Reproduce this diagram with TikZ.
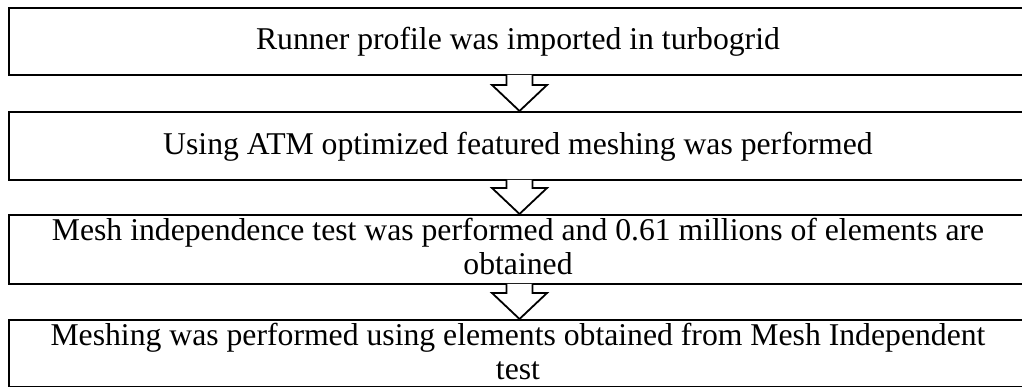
\documentclass[tikz,border=0pt]{standalone}
\usepackage{fontspec}
\setmainfont{Liberation Serif}
\usetikzlibrary{calc}

\tikzset{
  stepbox/.style={draw=black, line width=1.8pt, rectangle, inner sep=0pt,
    minimum width=1021pt, anchor=north},
  steptext/.style={inner sep=0pt, align=center, anchor=base,
    font=\fontsize{31.7}{34}\selectfont},
  flowarrow/.style={draw=black, fill=white, line width=1.8pt, line join=miter}
}

% hollow block arrow between two stacked boxes
\newcommand{\blockarrow}[2]{%
  \path[flowarrow] let \p1=(#1.south), \p2=(#2.north) in
    (\x1-13pt,\y1+1pt) -- (\x1-13pt,\y2+26pt) -- (\x1-27.5pt,\y2+26pt)
    -- (\x1,\y2) -- (\x1+27.5pt,\y2+26pt) -- (\x1+13pt,\y2+26pt)
    -- (\x1+13pt,\y1+1pt);
}

\begin{document}
\begin{tikzpicture}[x=1pt,y=-1pt]
  \useasboundingbox (0,0) rectangle (1022,387);
  \clip (0,0) rectangle (1022,387);

  % process boxes
  \node[stepbox, minimum height=67pt] (b1) at (519.5,7) {};
  \node[stepbox, minimum height=68pt] (b2) at (519.5,111) {};
  \node[stepbox, minimum height=69pt] (b3) at (519.5,214) {};
  \node[stepbox, minimum height=67pt] (b4) at (519.5,319) {};

  % connectors
  \blockarrow{b1}{b2}
  \blockarrow{b2}{b3}
  \blockarrow{b3}{b4}

  % box texts (base anchor sits on the last line)
  \node[steptext] (t1) at (518,50) {Runner profile was imported in turbogrid};
  \node[steptext] (t2) at (518,155) {Using ATM optimized featured meshing was performed};
  \node[steptext] (t3) at (518,275) {Mesh independence test was performed and 0.61 millions of elements are\\obtained};
  \node[steptext] (t4) at (518,379) {Meshing was performed using elements obtained from Mesh Independent\\test};
\end{tikzpicture}
\end{document}
